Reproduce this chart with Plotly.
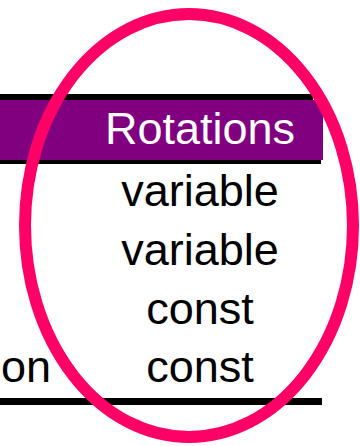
import plotly.graph_objects as go

# table fragment values
header = "Rotations"
rotations = ["variable", "variable", "const", "const"]
left_cut = ["", "", "", "on"]

W, H = 360, 446
FS = 45
baselines = [205, 264, 323, 381]
header_base = 143
col_x = 200

def mid(b):
    # move from wanted baseline to the point plotly centres text on
    return b - 0.35 * FS + 5

fig = go.Figure()

fig.add_trace(go.Scatter(
    x=[col_x], y=[mid(header_base)], mode="text", text=[header],
    textposition="middle center",
    textfont=dict(family="Arial, Liberation Sans", size=FS, color="white"),
    hoverinfo="skip"))

fig.add_trace(go.Scatter(
    x=[col_x] * len(rotations), y=[mid(b) for b in baselines], mode="text",
    text=rotations, textposition="middle center",
    textfont=dict(family="Arial, Liberation Sans", size=FS, color="black"),
    hoverinfo="skip"))

fig.add_trace(go.Scatter(
    x=[51] * len(left_cut), y=[mid(b) for b in baselines], mode="text",
    text=left_cut, textposition="middle left",
    textfont=dict(family="Arial, Liberation Sans", size=FS, color="black"),
    hoverinfo="skip"))

# header band and rules
fig.add_shape(type="rect", x0=0, x1=313, y0=94, y1=100, fillcolor="black", line_width=0, layer="below")
fig.add_shape(type="rect", x0=0, x1=323, y0=100, y1=160, fillcolor="#800080", line_width=0, layer="below")
fig.add_shape(type="rect", x0=0, x1=321, y0=160, y1=164, fillcolor="black", line_width=0, layer="below")
fig.add_shape(type="rect", x0=0, x1=322, y0=398, y1=405, fillcolor="black", line_width=0, layer="below")

# highlight ellipse
fig.add_shape(type="circle", x0=25, x1=353, y0=14, y1=437,
              line=dict(color="#FF0066", width=12), layer="above")

fig.update_layout(
    width=W, height=H, margin=dict(l=0, r=0, t=0, b=0),
    paper_bgcolor="white", plot_bgcolor="white", showlegend=False,
    xaxis=dict(range=[0, W], visible=False, fixedrange=True),
    yaxis=dict(range=[H, 0], visible=False, fixedrange=True),
)

fig.write_html("out.html", config={"displayModeBar": False},
               post_script="document.body.style.margin='0';document.body.style.overflow='hidden';")
